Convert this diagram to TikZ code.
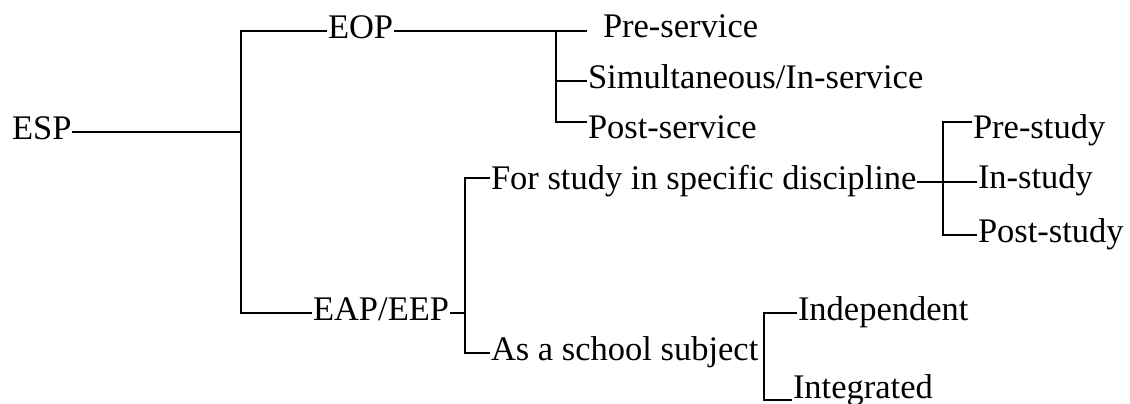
\documentclass[tikz,border=0pt]{standalone}
\usepackage{fontspec}
\setmainfont{Liberation Serif}
\usepackage{tikz}

\begin{document}
\begin{tikzpicture}[
    x=0.5pt, y=-0.5pt, line width=1pt,
    term/.style={inner sep=0pt, anchor=base west, text height=11.4pt,
                 text depth=4.3pt, font=\fontsize{17.25}{20}\selectfont}
]
    \useasboundingbox (0,0) rectangle (1130,403);
    % labels
    \node[term] (esp) at (11,139) {ESP};
    \node[term] (eop) at (327,38) {EOP};
    \node[term] (eap) at (312,320) {EAP/EEP};
    \node[term] (preserv) at (602,37) {Pre-service};
    \node[term] (simul) at (587,88) {Simultaneous/In-service};
    \node[term] (postserv) at (587,138) {Post-service};
    \node[term] (study) at (490,189) {For study in specific discipline};
    \node[term] (school) at (490,360) {As a school subject};
    \node[term] (prestudy) at (972,138) {Pre-study};
    \node[term] (instudy) at (977,188) {In-study};
    \node[term] (poststudy) at (977,242) {Post-study};
    \node[term] (indep) at (797,320) {Independent};
    \node[term] (integ) at (792,398) {Integrated};

    % branch points
    \coordinate (trunk) at (241,132);
    \coordinate (svc) at (556,31);
    \coordinate (disc) at (465,313);
    \coordinate (stj) at (943,182);
    \coordinate (sch) at (764,352);

    % connectors
    \draw (esp.east) -- (esp.east -| trunk);
    \draw (eop.west) -| (trunk) |- (eap.west);
    \draw[shorten >=7.5pt] (eop.east) -- (eop.east -| preserv.west);
    \draw (svc) |- ([yshift=4.5pt]postserv.west);
    \draw (svc |- simul.west) -- (simul.west);
    \draw (eap.east) -- (eap.east -| disc);
    \draw ([yshift=2pt]study.west) -| (disc) |- (school.west);
    \draw (study.east) -- (study.east -| instudy.west);
    \draw ([yshift=4.5pt]prestudy.west) -| (stj) |- (poststudy.west);
    \draw (indep.west) -| (sch) |- ([yshift=-4.5pt]integ.west);
\end{tikzpicture}
\end{document}
